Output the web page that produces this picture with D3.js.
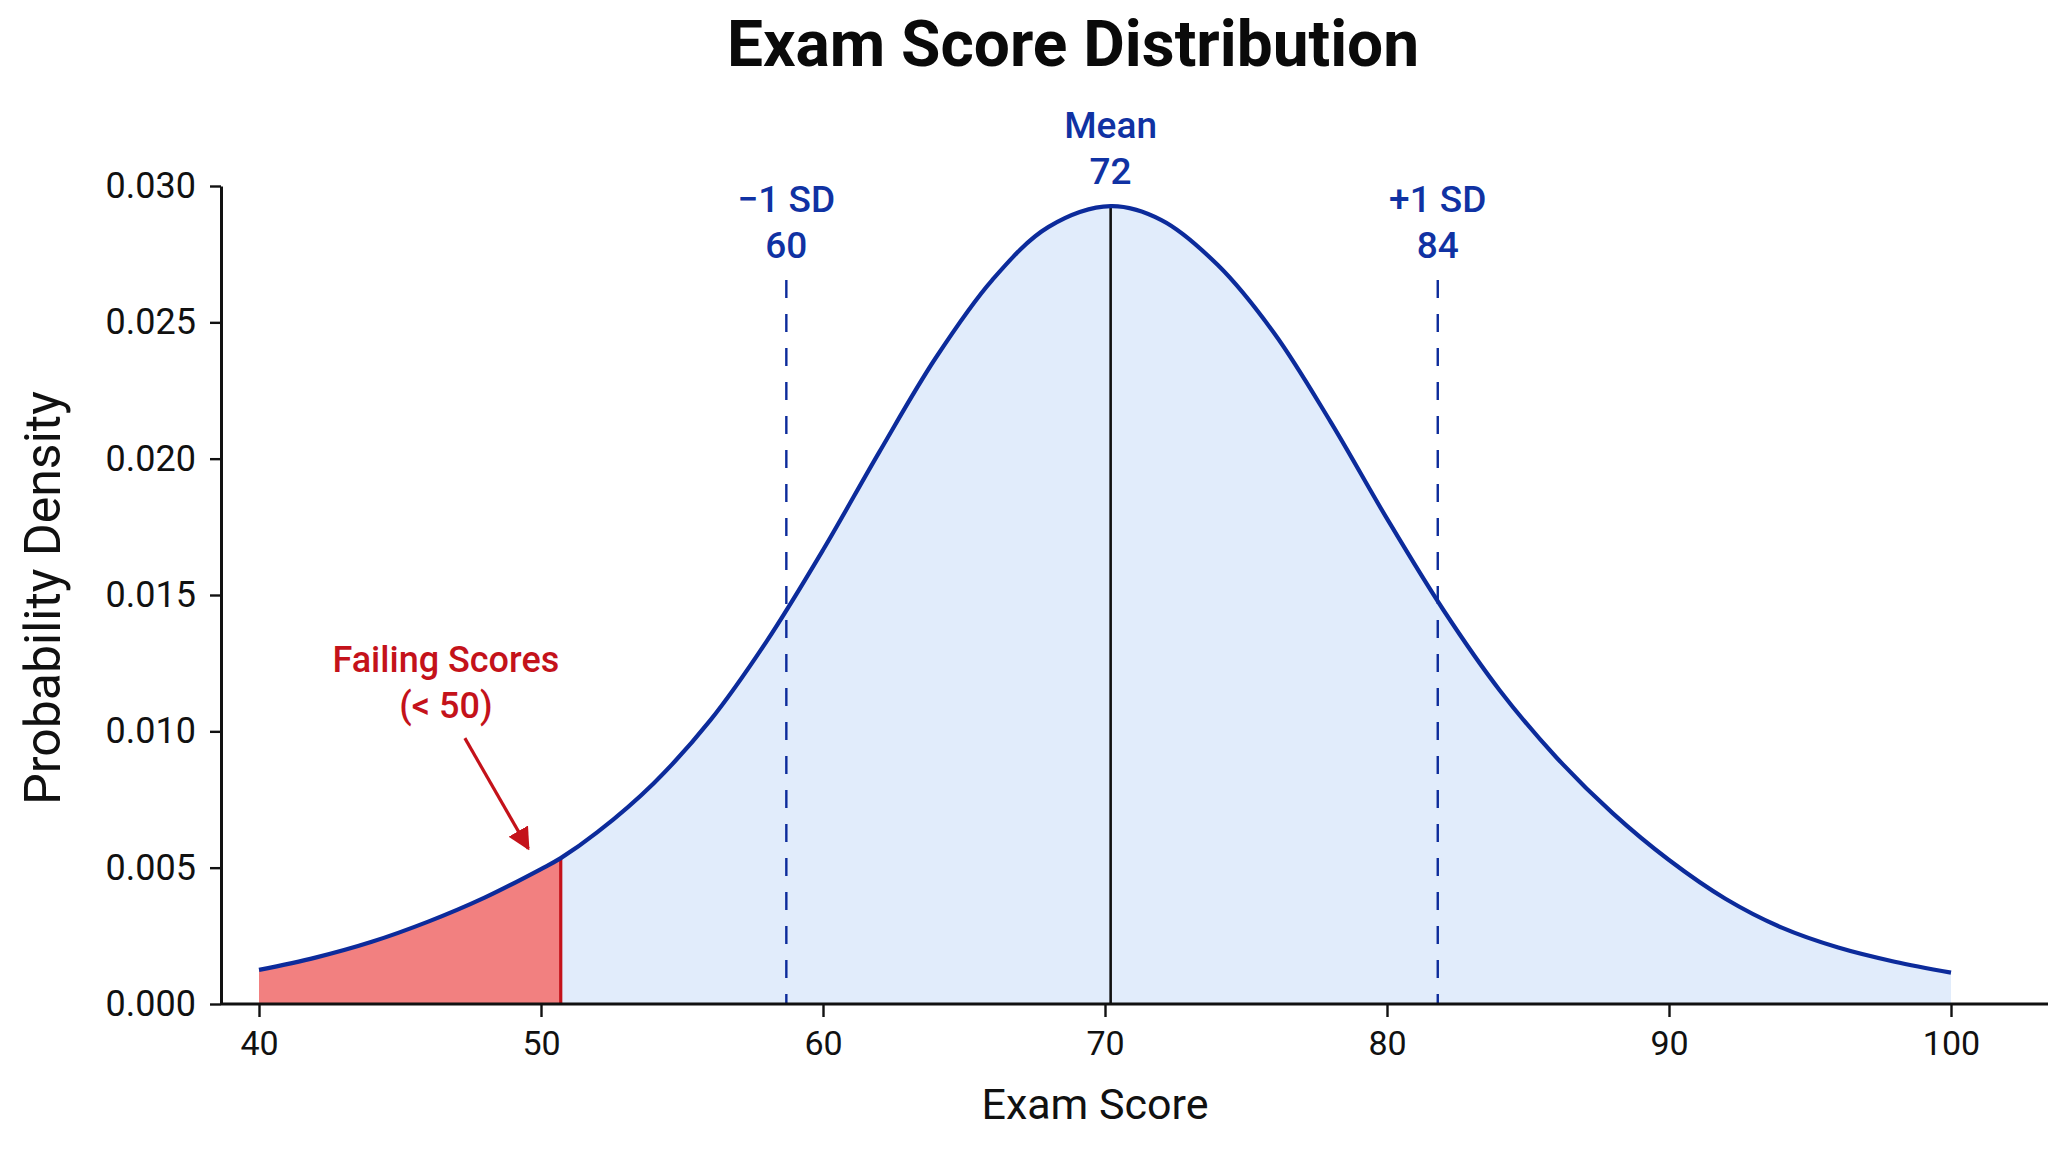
<!DOCTYPE html>
<html>
<head>
<meta charset="utf-8">
<script src="https://cdn.jsdelivr.net/npm/d3@7"></script>
<style>
  html, body { margin: 0; padding: 0; background: #ffffff; }
  svg { display: block; }
  text { font-family: Roboto, "Noto Sans", "DejaVu Sans", sans-serif; }
</style>
</head>
<body>
<svg id="chart" width="2048" height="1152"></svg>
<script>
// ---------------- data ----------------
const title = "Exam Score Distribution";
const xLabel = "Exam Score";
const yLabel = "Probability Density";

const xTicks = [40, 50, 60, 70, 80, 90, 100];
const yTicks = [0, 0.005, 0.010, 0.015, 0.020, 0.025, 0.030];

// density curve points (score, density)
const scores  = [40, 42, 44, 46, 48, 50, 50.7, 52, 54, 56, 58, 60, 62, 64, 66, 68, 70.2,
                 72, 74, 76, 78, 80, 82, 84, 86, 88, 90, 92, 94, 96, 98, 100];
const density = [0.00125, 0.00170, 0.00228, 0.00302, 0.00390, 0.00495, 0.00535, 0.00630, 0.00810, 0.01040,
                 0.01330, 0.01665, 0.02025, 0.02370, 0.02655, 0.02850, 0.02926,
                 0.02875, 0.02710, 0.02460, 0.02135, 0.01780, 0.01445, 0.01150, 0.00905, 0.00700,
                 0.00528, 0.00386, 0.00280, 0.00207, 0.00155, 0.00115];

// reference lines
const refNames  = ["\u22121 SD", "Mean", "+1 SD"];
const refValues = ["60", "72", "84"];
const refAt     = [58.7, 70.2, 81.8];
const refKinds  = ["dashed", "solid", "dashed"];

// failing region
const failCut = 50.7;
const failText = ["Failing Scores", "(< 50)"];
const arrowFrom = [47.3, 0.00975];
const arrowTo   = [49.55, 0.0057];

// ---------------- drawing ----------------
const W = 2048, H = 1152;
const svg = d3.select("#chart");
svg.append("rect").attr("width", W).attr("height", H).attr("fill", "#ffffff");

const x = d3.scaleLinear().domain([40, 100]).range([259, 1951]);
const y = d3.scaleLinear().domain([0, 0.030]).range([1004, 186]);
const axisX0 = 221;

const pts = scores.map((s, i) => ({ s, d: density[i] }));
const failPts = pts.filter(p => p.s <= failCut);

const curveType = d3.curveCatmullRom.alpha(0.5);
const area = d3.area().x(p => x(p.s)).y0(y(0)).y1(p => y(p.d)).curve(curveType);
const line = d3.line().x(p => x(p.s)).y(p => y(p.d)).curve(curveType);

const blue = "#0c2b9b";
const labelBlue = "#1032a3";
const red = "#c4121a";

// fills
svg.append("path").datum(pts).attr("d", area).attr("fill", "#e1ecfb");
svg.append("path").datum(failPts).attr("d", area).attr("fill", "#f28080");

// reference lines
const peak = d3.max(density);
refAt.forEach((v, i) => {
  const isSolid = refKinds[i] === "solid";
  const top = isSolid ? y(peak) : 280;
  svg.append("line")
    .attr("x1", x(v)).attr("x2", x(v))
    .attr("y1", top).attr("y2", y(0))
    .attr("stroke", isSolid ? "#111111" : blue)
    .attr("stroke-width", isSolid ? 2.6 : 2.4)
    .attr("stroke-dasharray", isSolid ? null : "18,16");
  const b1 = isSolid ? 138 : 212;
  svg.append("text").attr("x", x(v)).attr("y", b1)
    .attr("text-anchor", "middle").attr("font-size", 37).attr("font-weight", 500)
    .attr("fill", labelBlue).text(refNames[i]);
  svg.append("text").attr("x", x(v)).attr("y", b1 + 46)
    .attr("text-anchor", "middle").attr("font-size", 37).attr("font-weight", 500)
    .attr("fill", labelBlue).text(refValues[i]);
});

// failing boundary line
const failD = failPts[failPts.length - 1].d;
svg.append("line")
  .attr("x1", x(failCut)).attr("x2", x(failCut))
  .attr("y1", y(failD)).attr("y2", y(0))
  .attr("stroke", red).attr("stroke-width", 3.2);

// density curve
svg.append("path").datum(pts).attr("d", line)
  .attr("fill", "none").attr("stroke", blue).attr("stroke-width", 4.2)
  .attr("stroke-linecap", "butt");

// axes
const gx = svg.append("g").attr("transform", `translate(0,${y(0)})`)
  .call(d3.axisBottom(x).tickValues(xTicks).tickSize(13).tickPadding(14).tickFormat(d3.format("d")));
gx.select(".domain").remove();
gx.append("line").attr("x1", axisX0).attr("x2", W).attr("y1", 0).attr("y2", 0)
  .attr("stroke", "#111").attr("stroke-width", 3);
gx.selectAll(".tick line").attr("stroke", "#111").attr("stroke-width", 2.4);
gx.selectAll(".tick text").attr("font-size", 34).attr("fill", "#111")
  .attr("font-family", "Roboto, sans-serif");

const gy = svg.append("g").attr("transform", `translate(${axisX0},0)`)
  .call(d3.axisLeft(y).tickValues(yTicks).tickSize(11).tickPadding(14).tickSizeOuter(0).tickFormat(d3.format(".3f")));
gy.select(".domain").attr("stroke", "#111").attr("stroke-width", 3);
gy.selectAll(".tick line").attr("stroke", "#111").attr("stroke-width", 2.4);
gy.selectAll(".tick text").attr("font-size", 36).attr("fill", "#111")
  .attr("font-family", "Roboto, sans-serif");

// annotation arrow
const defs = svg.append("defs");
defs.append("marker").attr("id", "arrowhead")
  .attr("viewBox", "0 0 10 10").attr("refX", 9).attr("refY", 5)
  .attr("markerWidth", 7).attr("markerHeight", 7).attr("markerUnits", "strokeWidth")
  .attr("orient", "auto")
  .append("path").attr("d", "M0,0 L10,5 L0,10 Z").attr("fill", red);
svg.append("line")
  .attr("x1", x(arrowFrom[0])).attr("y1", y(arrowFrom[1]))
  .attr("x2", x(arrowTo[0])).attr("y2", y(arrowTo[1]))
  .attr("stroke", red).attr("stroke-width", 3.2)
  .attr("marker-end", "url(#arrowhead)");
const ax0 = x(arrowFrom[0]), ay0 = y(arrowFrom[1]);
failText.forEach((t, i) => {
  svg.append("text").attr("x", ax0 - 19).attr("y", ay0 - 66 + i * 46)
    .attr("text-anchor", "middle").attr("font-size", 36).attr("font-weight", 500)
    .attr("fill", red).text(t);
});

// titles
svg.append("text").attr("x", 1073).attr("y", 66)
  .attr("text-anchor", "middle").attr("font-size", 64).attr("font-weight", 700)
  .attr("fill", "#0a0a0a").text(title);
svg.append("text").attr("x", 1095).attr("y", 1119)
  .attr("text-anchor", "middle").attr("font-size", 43)
  .attr("fill", "#111").text(xLabel);
svg.append("text").attr("transform", `translate(60,598) rotate(-90)`)
  .attr("text-anchor", "middle").attr("font-size", 50)
  .attr("fill", "#111").text(yLabel);
</script>
</body>
</html>
